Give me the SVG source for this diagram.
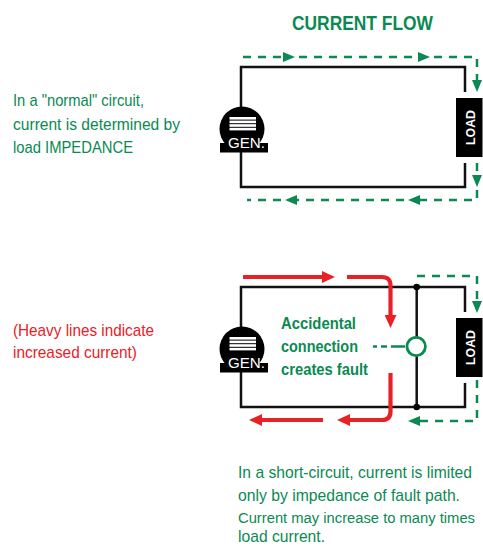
<svg xmlns="http://www.w3.org/2000/svg" width="483" height="546" viewBox="0 0 483 546">
<style>
.wire{fill:none;stroke:#111;stroke-width:2.5}
.gd{fill:none;stroke:#0a8a52;stroke-width:2.5;stroke-dasharray:8 7}
.rd{fill:none;stroke:#e82127;stroke-width:4.2}
.t{font-family:"Liberation Sans",Arial,sans-serif;font-size:16.2px}
.g{fill:#0a8a52}
.r{fill:#e82127}
.b{font-weight:bold}
.w{fill:#fff}
</style>
<defs>
<marker id="ag" markerUnits="userSpaceOnUse" viewBox="0 0 12 10" refX="0" refY="5" markerWidth="12" markerHeight="10" orient="auto"><path d="M0,0 L12,5 L0,10 Z" fill="#0a8a52"/></marker>
<marker id="ar" markerUnits="userSpaceOnUse" viewBox="0 0 13 12" refX="0" refY="6" markerWidth="13" markerHeight="12" orient="auto"><path d="M0,0 L13,6 L0,12 Z" fill="#e82127"/></marker>
<g id="gensym">
<rect x="-21.5" y="14" width="48" height="9.5" fill="#000"/>
<circle cx="0.5" cy="0" r="22.5" fill="#000"/>
<rect x="-12" y="-12" width="26.5" height="2.6" fill="#fff"/>
<rect x="-12" y="-8.4" width="26.5" height="2.6" fill="#fff"/>
<rect x="-12" y="-4.8" width="26.5" height="2.6" fill="#fff"/>
<rect x="-12" y="-1.2" width="26.5" height="2.6" fill="#fff"/>
<text x="5" y="19" text-anchor="middle" class="t w" style="font-size:15.5px" textLength="37" lengthAdjust="spacingAndGlyphs">GEN.</text>
</g>
</defs>
<rect width="483" height="546" fill="#fff"/>

<text x="362.5" y="30" text-anchor="middle" class="t g b" style="font-size:21px" textLength="141" lengthAdjust="spacingAndGlyphs">CURRENT FLOW</text>

<g id="text-normal" class="t g">
<text x="13" y="106" textLength="131" lengthAdjust="spacingAndGlyphs">In a "normal" circuit,</text>
<text x="13" y="129.5" textLength="167" lengthAdjust="spacingAndGlyphs">current is determined by</text>
<text x="13" y="152.5" textLength="120" lengthAdjust="spacingAndGlyphs">load IMPEDANCE</text>
</g>
<g id="text-heavy" class="t r">
<text x="13" y="336" textLength="141" lengthAdjust="spacingAndGlyphs">(Heavy lines indicate</text>
<text x="13" y="358" textLength="124" lengthAdjust="spacingAndGlyphs">increased current)</text>
</g>
<g id="text-short" class="t g">
<text x="238" y="477.5" textLength="234" lengthAdjust="spacingAndGlyphs">In a short-circuit, current is limited</text>
<text x="238" y="500.5" textLength="222" lengthAdjust="spacingAndGlyphs">only by impedance of fault path.</text>
<text x="238" y="523" style="font-size:14.7px" textLength="237" lengthAdjust="spacingAndGlyphs">Current may increase to many times</text>
<text x="238" y="542" textLength="87" lengthAdjust="spacingAndGlyphs">load current.</text>
</g>

<g id="connectors">
<path class="wire" d="M465,92 V67 H241 V187 H465 V163"/>
<path class="wire" d="M465,312 V287 H241 V407 H465 V383"/>
<path class="wire" d="M416.7,287 V407"/>
<path class="gd" d="M243,57 H283" marker-end="url(#ag)"/>
<path class="gd" d="M299,57 H418" marker-end="url(#ag)"/>
<path class="gd" d="M434,57 H477 V80" marker-end="url(#ag)"/>
<path class="gd" d="M477,163 V175" marker-end="url(#ag)"/>
<path class="gd" d="M477,190 V200 H420" marker-end="url(#ag)"/>
<path class="gd" d="M404,200 H297" marker-end="url(#ag)"/>
<path class="gd" d="M281,200 H247"/>
<path class="gd" d="M417,276 H477 V301" marker-end="url(#ag)"/>
<path class="gd" d="M477,380 V421 H420" marker-end="url(#ag)"/>
<path class="rd" d="M243,277 H322" marker-end="url(#ar)"/>
<path class="rd" d="M347,277 H382 Q390.5,277 390.5,285.5 V315" marker-end="url(#ar)"/>
<path class="rd" d="M390.5,373 V411.5 Q390.5,420 382,420 H350" marker-end="url(#ar)"/>
<path class="rd" d="M323,420 H262" marker-end="url(#ar)"/>
<path d="M373,346.5 H405" fill="none" stroke="#0a8a52" stroke-width="2.5" stroke-dasharray="4 4 6 4 14"/>
</g>

<g id="gen1"><use href="#gensym" x="241.5" y="129"/></g>
<g id="gen2"><use href="#gensym" x="241.5" y="349"/></g>

<g id="load1">
<rect x="456" y="98" width="26.5" height="59" fill="#000"/>
<text transform="translate(474.5,127.5) rotate(-90)" text-anchor="middle" class="t w b" style="font-size:13.5px" textLength="35" lengthAdjust="spacingAndGlyphs">LOAD</text>
</g>
<g id="load2">
<rect x="456" y="318" width="26.5" height="59" fill="#000"/>
<text transform="translate(474.5,347.5) rotate(-90)" text-anchor="middle" class="t w b" style="font-size:13.5px" textLength="35" lengthAdjust="spacingAndGlyphs">LOAD</text>
</g>

<g id="fault">
<circle cx="416.7" cy="287" r="3.3" fill="#000"/>
<circle cx="416.7" cy="407" r="3.3" fill="#000"/>
<circle cx="416.2" cy="346.5" r="9.2" fill="#fff" stroke="#0a8a52" stroke-width="2.8"/>
<g class="t g b" style="font-size:16px">
<text x="281" y="328.5" textLength="75" lengthAdjust="spacingAndGlyphs">Accidental</text>
<text x="281" y="352" textLength="77" lengthAdjust="spacingAndGlyphs">connection</text>
<text x="281" y="374.5" textLength="87" lengthAdjust="spacingAndGlyphs">creates fault</text>
</g>
</g>
</svg>
